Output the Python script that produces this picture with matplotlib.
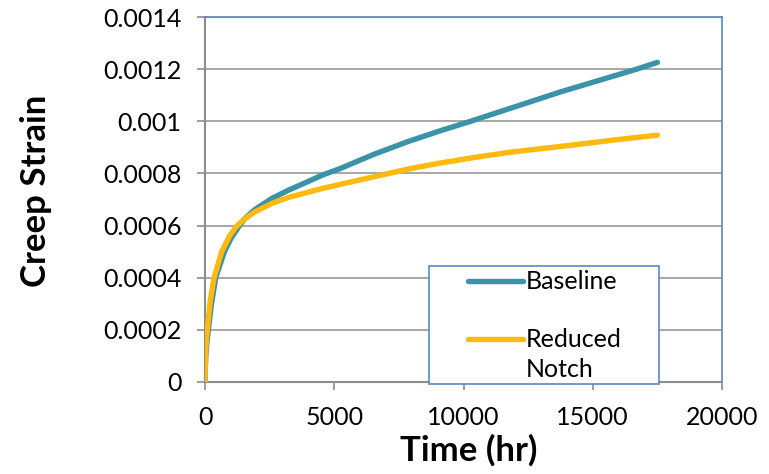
import matplotlib
matplotlib.use('Agg')
import matplotlib.pyplot as plt
from matplotlib.lines import Line2D
from matplotlib.patches import Rectangle

plt.rcParams['font.family'] = ['Lato', 'DejaVu Sans']

# values
baseline_t = [0, 10, 30, 70, 130, 250, 413, 750, 1000, 1300, 1550, 1938,
              2584, 3230, 3876, 4522, 5233, 6525, 7817, 9109, 10207,
              11693, 13760, 16700, 17500]
baseline_eps = [0, 0.00005, 0.0001, 0.00015, 0.0002, 0.0003, 0.0004, 0.0005,
                0.00055, 0.000595, 0.000628, 0.000662, 0.000704, 0.000736,
                0.000764, 0.000793, 0.000819, 0.000873, 0.000921, 0.000964,
                0.000998, 0.001046, 0.001113, 0.0012, 0.001226]

notch_t = [0, 10, 25, 50, 90, 200, 350, 645, 969, 1200, 1550, 1938, 2584,
           3230, 3876, 4522, 5233, 6525, 7817, 9109, 10400, 11693, 12983,
           14147, 15800, 17500]
notch_eps = [0, 0.00006, 0.00012, 0.00016, 0.0002, 0.00031, 0.0004, 0.0005,
             0.000563, 0.000595, 0.000627, 0.000653, 0.000685, 0.000708,
             0.000725, 0.000742, 0.000758, 0.000787, 0.000816, 0.00084,
             0.000861, 0.00088, 0.000895, 0.000908, 0.000928, 0.000947]

x_ticks = [0, 5000, 10000, 15000, 20000]
y_ticks = [0, 0.0002, 0.0004, 0.0006, 0.0008, 0.001, 0.0012, 0.0014]
y_tick_labels = ['0', '0.0002', '0.0004', '0.0006', '0.0008', '0.001',
                 '0.0012', '0.0014']

TEAL = '#3A93A8'
GOLD = '#FFB90F'
FRAME = '#5B87BF'
GREY = '#8C8C8C'

fig = plt.figure(figsize=(7.69, 4.74), dpi=100)
ax = fig.add_axes([0.2666, 0.1941, 0.6723, 0.7700])

ax.plot(baseline_t, baseline_eps, color=TEAL, lw=3.9,
        solid_capstyle='round', solid_joinstyle='round', zorder=3)
ax.plot(notch_t, notch_eps, color=GOLD, lw=3.9,
        solid_capstyle='round', solid_joinstyle='round', zorder=4)

ax.set_xlim(0, 20000)
ax.set_ylim(0, 0.0014)
ax.set_xticks(x_ticks)
ax.set_xticklabels([str(v) for v in x_ticks])
ax.set_yticks(y_ticks)
ax.set_yticklabels(y_tick_labels)
ax.tick_params(axis='both', labelsize=18, length=6, width=1.2,
               color=GREY, pad=11)
ax.grid(axis='y', color='#A0A0A0', lw=1.3)
ax.set_axisbelow(True)

for side in ('top', 'right'):
    ax.spines[side].set_color(FRAME)
    ax.spines[side].set_linewidth(1.2)
for side in ('left', 'bottom'):
    ax.spines[side].set_color(GREY)
    ax.spines[side].set_linewidth(1.5)

ax.set_xlabel('Time (hr)', fontsize=25, fontweight='bold', va='center')
ax.xaxis.set_label_coords(0.51, -0.186, transform=ax.transAxes)
ax.set_ylabel('Creep Strain', fontsize=25, fontweight='bold', va='center')
ax.yaxis.set_label_coords(-0.327, 0.523, transform=ax.transAxes)

# hand-built legend box, as in the spreadsheet original
box = Rectangle((0.4333, -0.0055), 0.4447, 0.3233, transform=ax.transAxes,
                facecolor='white', edgecolor=FRAME, lw=1.2, clip_on=False,
                zorder=6)
ax.add_patch(box)
for col, yy in ((TEAL, 0.2767), (GOLD, 0.1178)):
    ax.add_line(Line2D([0.5087, 0.615], [yy, yy], transform=ax.transAxes,
                       color=col, lw=3.9, solid_capstyle='round',
                       clip_on=False, zorder=7))
ax.text(0.62, 0.2767, 'Baseline', transform=ax.transAxes, fontsize=18,
        va='center', ha='left', zorder=7)
ax.text(0.62, 0.1178, 'Reduced', transform=ax.transAxes, fontsize=18,
        va='center', ha='left', zorder=7)
ax.text(0.62, 0.033, 'Notch', transform=ax.transAxes, fontsize=18,
        va='center', ha='left', zorder=7)

fig.savefig('out.png', dpi=100)
plt.close()
